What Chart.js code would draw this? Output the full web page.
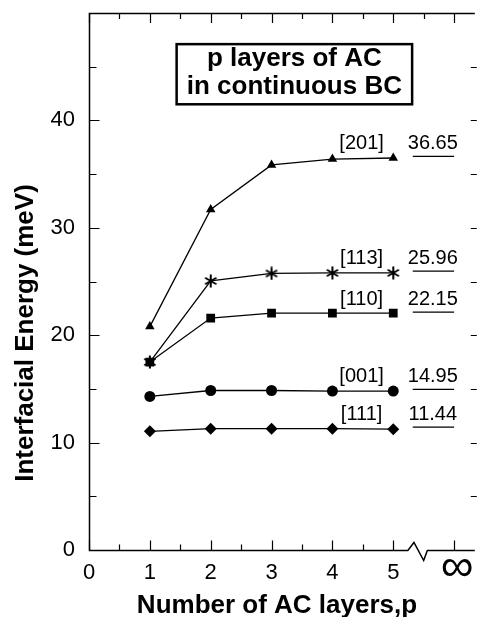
<!DOCTYPE html>
<html>
<head>
<meta charset="utf-8">
<script src="https://cdn.jsdelivr.net/npm/chart.js@4.4.1/dist/chart.umd.min.js"></script>
<style>
  html, body { margin: 0; padding: 0; background: #fff; overflow: hidden; }
  #wrap { position: relative; width: 481px; height: 617px; }
</style>
</head>
<body>
<div id="wrap"><canvas id="chart"></canvas></div>
<script>
// number of AC layers
const layers = [1, 2, 3, 4, 5];
// interfacial energy (meV) per orientation
const e201 = [20.8, 31.7, 35.85, 36.4, 36.5];
const e113 = [17.5, 25.05, 25.75, 25.8, 25.8];
const e110 = [17.5, 21.6, 22.05, 22.05, 22.05];
const e001 = [14.3, 14.85, 14.85, 14.8, 14.8];
const e111 = [11.05, 11.3, 11.3, 11.3, 11.25];
// p -> infinity limits
const orientations = ['[201]', '[113]', '[110]', '[001]', '[111]'];
const infValues = [36.65, 25.96, 22.15, 14.95, 11.44];
const infSpan = [5.32, 6.0];
const xTicks = [0, 1, 2, 3, 4, 5, 6];
const xTickLabels = ['0', '1', '2', '3', '4', '5', '\u221E'];
const yTickLabels = ['0', '10', '20', '30', '40'];

const FONT = "'Liberation Sans', Arial, Helvetica, sans-serif";

function asterisk(size, lw) {
  const c = document.createElement('canvas');
  c.width = c.height = size;
  const g = c.getContext('2d');
  g.strokeStyle = '#000';
  g.lineWidth = lw;
  const m = size / 2, r = size / 2 - 0.5;
  for (let k = 0; k < 3; k++) {
    const a = Math.PI / 2 + k * Math.PI / 3;
    g.beginPath();
    g.moveTo(m + r * Math.cos(a), m + r * Math.sin(a));
    g.lineTo(m - r * Math.cos(a), m - r * Math.sin(a));
    g.stroke();
  }
  return c;
}

const pts = ys => layers.map((p, i) => ({ x: p, y: ys[i] }));

function series(ys, style, radius) {
  return {
    data: pts(ys),
    borderColor: '#000',
    backgroundColor: '#000',
    borderWidth: 1.3,
    pointStyle: style,
    pointRadius: radius,
    pointBorderWidth: 0,
    tension: 0
  };
}

const infSets = infValues.map(v => ({
  data: infSpan.map(x => ({ x: x, y: v })),
  borderColor: '#000',
  borderWidth: 1.3,
  pointRadius: 0
}));

const noPad = s => { s.paddingTop = 0; s.paddingBottom = 0; s.paddingLeft = 0; s.paddingRight = 0; };

const frame = {
  id: 'frame',
  afterDraw(chart) {
    const { ctx, chartArea: a, scales: { x, y } } = chart;
    ctx.save();
    ctx.strokeStyle = '#000';
    ctx.lineWidth = 1.5;
    const b = Math.round(a.bottom) + 0.5;
    const l = Math.round(a.left) + 0.5;
    // frame with axis break (right side lies just past the page edge)
    ctx.beginPath();
    ctx.moveTo(a.right, a.top + 0.5);
    ctx.lineTo(l, a.top + 0.5);
    ctx.lineTo(l, b);
    ctx.lineTo(x.getPixelForValue(5.24), b);
    ctx.lineTo(x.getPixelForValue(5.34), b - 8);
    ctx.lineTo(x.getPixelForValue(5.50), b + 10);
    ctx.lineTo(x.getPixelForValue(5.56), b);
    ctx.lineTo(a.right, b);
    ctx.stroke();

    // inward ticks
    ctx.lineWidth = 1.2;
    ctx.beginPath();
    for (let v = 0; v <= 6.001; v += 0.5) {
      const px = Math.round(x.getPixelForValue(v)) + 0.5;
      const major = Math.abs(v - Math.round(v)) < 1e-6;
      const len = major ? 10 : 6;
      ctx.moveTo(px, a.top);
      ctx.lineTo(px, a.top + len);
      if (v <= 5 || v === 6) {
        ctx.moveTo(px, b);
        ctx.lineTo(px, b - len);
      }
    }
    for (let v = 5; v < 50; v += 5) {
      const py = Math.round(y.getPixelForValue(v)) + 0.5;
      const len = v % 10 === 0 ? 10 : 7;
      ctx.moveTo(l, py);
      ctx.lineTo(l + len, py);
      ctx.moveTo(a.right + 2, py);
      ctx.lineTo(a.right - 4, py);
    }
    ctx.stroke();

    // infinity tick label
    ctx.fillStyle = '#000';
    ctx.textAlign = 'center';
    ctx.textBaseline = 'middle';
    ctx.font = '46px ' + FONT;
    ctx.fillText(xTickLabels[6], x.getPixelForValue(6) + 3, b + 18);

    // legend box
    const bx = x.getPixelForValue(1.44), bx2 = x.getPixelForValue(5.31);
    const by = y.getPixelForValue(47.1), by2 = y.getPixelForValue(41.5);
    ctx.lineWidth = 2.5;
    ctx.strokeRect(bx, by, bx2 - bx, by2 - by);
    ctx.font = 'bold 26px ' + FONT;
    ctx.textBaseline = 'alphabetic';
    const cx = (bx + bx2) / 2;
    ctx.fillText('p layers of AC', cx, by + 22);
    ctx.fillText('in continuous BC', cx, by + 50);

    // orientation and limit labels
    ctx.font = '20px ' + FONT;
    infValues.forEach((v, i) => {
      const py = y.getPixelForValue(v) - 7;
      ctx.fillText(orientations[i], x.getPixelForValue(4.48), py);
      ctx.fillText(v.toFixed(2), x.getPixelForValue(5.65), py);
    });

    // axis titles
    ctx.font = 'bold 26px ' + FONT;
    ctx.fillText('Number of AC layers,p', 277, 613);
    ctx.translate(33, 333);
    ctx.rotate(-Math.PI / 2);
    ctx.fillText('Interfacial Energy (meV)', 0, 0);
    ctx.restore();
  }
};

new Chart(document.getElementById('chart'), {
  type: 'line',
  data: {
    datasets: [
      ...infSets,
      series(e111, 'rectRot', 6),
      series(e001, 'circle', 5.5),
      series(e110, 'rect', 6.2),
      series(e113, asterisk(14, 2), 6),
      series(e201, 'triangle', 5.5)
    ]
  },
  options: {
    responsive: true,
    maintainAspectRatio: false,
    animation: false,
    layout: { padding: { top: 13, right: 0, left: 0, bottom: 0 } },
    plugins: { legend: { display: false }, tooltip: { enabled: false } },
    scales: {
      x: {
        type: 'linear',
        min: 0,
        max: 6.34,
        grid: { display: false, drawTicks: false },
        border: { display: false },
        afterFit: s => { s.height = 67; noPad(s); },
        afterBuildTicks: s => { s.ticks = xTicks.map(v => ({ value: v })); },
        ticks: {
          padding: 10,
          color: '#000',
          maxRotation: 0,
          font: { family: FONT, size: 22 },
          callback: v => (v < 6 ? xTickLabels[xTicks.indexOf(v)] : '')
        }
      },
      y: {
        min: 0,
        max: 50,
        grid: { display: false, drawTicks: false },
        border: { display: false },
        afterFit: s => { s.width = 89; noPad(s); },
        afterBuildTicks: s => { s.ticks = yTickLabels.map(t => ({ value: Number(t) })); },
        ticks: {
          padding: 14,
          color: '#000',
          font: { family: FONT, size: 22 },
          callback: v => String(v)
        }
      }
    }
  },
  plugins: [frame]
});
</script>
</body>
</html>
